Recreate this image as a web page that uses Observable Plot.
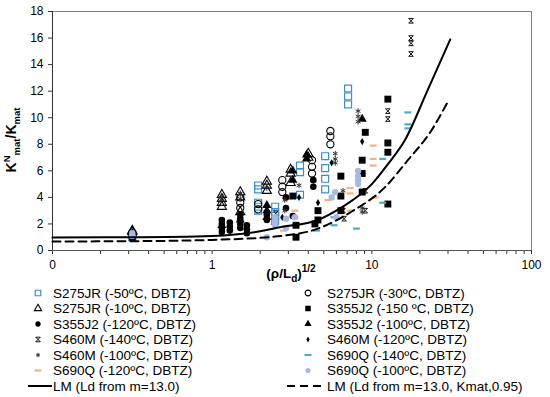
<!DOCTYPE html>
<html><head><meta charset="utf-8">
<script src="https://cdn.jsdelivr.net/npm/d3@7"></script>
<script src="https://cdn.jsdelivr.net/npm/@observablehq/plot@0.6"></script>
<style>
body{margin:0;background:#fff;font-family:"Liberation Sans",Arial,sans-serif;overflow:hidden}
#chart svg{display:block}
</style>
</head><body><div id="chart"></div>
<script>
// ---- data (x = (rho/Ld)^1/2, y = KNmat/Kmat) ----
const s275jr_m50 = [[0.316,1.0],[0.316,1.2],[1.94,4.9],[1.94,4.6],[1.94,3.6],[1.94,3.3],[1.94,3.0],[2.48,3.3],[2.48,2.9],[2.48,2.6],[2.48,2.2],[3.55,6.4],[3.55,5.9],[3.55,4.2],[5.1,7.1],[5.1,6.2],[5.1,5.4],[5.1,4.6],[7.1,12.2],[7.1,11.6],[7.1,11.0]];
const s275jr_m30 = [[0.316,1.1],[1.5,4.0],[1.5,3.6],[1.5,3.2],[1.94,3.5],[1.94,3.1],[2.75,5.3],[2.75,4.8],[2.75,4.4],[4.22,6.8],[4.22,6.3],[4.22,5.8],[5.5,9.0],[5.5,8.6],[5.5,8.0]];
const s275jr_m10 = [[0.316,1.4],[0.316,1.5],[1.15,4.2],[1.15,3.9],[1.15,3.6],[1.15,3.3],[1.5,4.4],[1.5,4.0],[1.5,2.9],[2.2,5.2],[2.2,4.9],[2.2,4.5],[3.1,6.1],[3.1,5.8],[3.1,5.1],[4.0,7.3],[4.0,7.0]];
const s355j2_m150 = [[0.316,1.0],[3.2,4.1],[3.35,1.9],[3.35,1.0],[4.4,2.0],[4.6,3.0],[4.6,2.3],[6.4,5.6],[6.4,4.1],[6.4,3.0],[8.7,6.8],[8.7,5.8],[8.7,4.4],[9.1,8.9],[12.6,11.4],[12.6,8.1],[12.6,7.4],[12.6,3.5]];
const s355j2_m120 = [[0.316,0.9],[1.15,1.4],[1.15,1.7],[1.15,2.0],[1.15,2.3],[1.29,1.5],[1.29,1.8],[1.29,2.1],[1.5,1.7],[1.5,2.0],[1.5,2.4],[1.5,2.7],[1.65,1.3],[1.65,1.6],[1.65,1.9],[2.2,2.3],[2.2,2.7],[2.9,4.0],[2.9,3.2],[3.2,2.6],[4.3,5.3],[4.3,4.8]];
const s355j2_m100 = [[0.316,1.3],[1.15,1.9],[1.5,2.3],[2.2,2.5],[2.2,3.0],[2.2,3.4],[3.2,6.0],[3.2,5.3],[3.9,7.2],[3.9,6.9],[8.7,9.9]];
const s460m_m140 = [[0.316,1.2],[2.5,2.8],[6.7,2.4],[6.6,3.0],[8.7,6.8],[9.1,4.5],[9.1,3.0],[12.6,10.5],[12.6,9.9],[12.6,8.1],[17.6,17.3],[17.6,16.0],[17.6,15.6],[17.6,14.8]];
const s460m_m120 = [[0.316,1.1],[2.75,2.5],[3.5,4.0],[4.6,3.6],[5.6,6.6],[8.7,8.2]];
const s460m_m100 = [[0.316,1.2],[1.15,4.1],[1.15,3.8],[1.5,4.3],[1.5,3.9],[2.2,4.7],[2.85,3.8],[2.85,3.0],[3.5,4.9],[5.9,7.3],[5.9,6.9],[5.9,6.6],[6.6,4.5],[8.2,10.5],[8.2,10.1],[8.2,9.7],[8.7,3.2],[8.7,2.9]];
const s690q_m140 = [[0.316,1.0],[4.5,1.5],[5.8,1.9],[5.8,2.5],[8.0,1.65],[11.7,6.9],[11.7,3.6],[16.8,10.4],[16.8,9.5],[16.8,9.2]];
const s690q_m120 = [[0.316,1.1],[2.8,1.5],[3.3,3.0],[3.3,2.5],[5.3,3.8],[7.3,4.7],[7.3,4.3],[7.3,3.0],[10.2,7.9],[10.2,6.9],[10.2,6.4],[10.5,4.0]];
const s690q_m100 = [[0.316,1.3],[0.316,1.1],[2.2,1.0],[2.48,2.5],[2.48,2.2],[2.48,1.9],[2.9,2.4],[2.9,1.7],[3.3,2.5],[5.6,4.0],[5.9,4.4],[6.0,2.5],[8.2,6.0],[8.2,5.6],[8.2,5.3],[8.2,5.0]];
const lmSolid = [[0.1,0.98],[0.3,1.0],[1,1.1],[2,1.45],[2.66,1.75],[4.6,2.3],[6.5,3.26],[10,5.0],[12.6,6.5],[16.1,8.3],[22.4,12.1],[31,15.9]];
const lmDashed = [[0.1,0.68],[0.3,0.7],[1,0.8],[2.48,1.05],[4.6,1.65],[7.4,2.9],[12.1,4.77],[16.8,6.8],[23.5,9.0],[29.6,11.1]];

const yTicks = [0,2,4,6,8,10,12,14,16,18];
const xMajor = [0.1,1,10,100];
const xTickLabels = ["0","1","10","100"];
const xMinor = [0.2,0.3,0.4,0.5,0.6,0.7,0.8,0.9,2,3,4,5,6,7,8,9,20,30,40,50,60,70,80,90];

const labels = {
  s275jr_m50:"S275JR (-50ºC, DBTZ)", s275jr_m30:"S275JR (-30ºC, DBTZ)", s275jr_m10:"S275JR (-10ºC, DBTZ)",
  s355j2_m150:"S355J2 (-150 ºC, DBTZ)", s355j2_m120:"S355J2 (-120ºC, DBTZ)", s355j2_m100:"S355J2 (-100ºC, DBTZ)",
  s460m_m140:"S460M (-140ºC, DBTZ)", s460m_m120:"S460M (-120ºC, DBTZ)", s460m_m100:"S460M (-100ºC, DBTZ)",
  s690q_m140:"S690Q (-140ºC, DBTZ)", s690q_m120:"S690Q (-120ºC, DBTZ)", s690q_m100:"S690Q (-100ºC, DBTZ)",
  lmSolid:"LM (Ld from m=13.0)", lmDashed:"LM (Ld from m=13.0, Kmat,0.95)"
};

// ---- styles ----
const symDash = {draw(ctx){ctx.moveTo(-3.5,-1.1);ctx.lineTo(3.5,-1.1);ctx.lineTo(3.5,1.1);ctx.lineTo(-3.5,1.1);ctx.closePath();}};
const symHour = {draw(ctx){const s=2.3;ctx.moveTo(-s,-s);ctx.lineTo(s,s);ctx.moveTo(s,-s);ctx.lineTo(-s,s);ctx.moveTo(-s,-s);ctx.lineTo(s,-s);ctx.moveTo(-s,s);ctx.lineTo(s,s);}};
const BLUE="#3a8fcc", ORANGE="#f4b183", CYAN="#4bacc6", LILAC="#aab9e2";
const styles = {
  s275jr_m50:{symbol:"square",r:3.9,fill:"none",stroke:BLUE,sw:1.2},
  s275jr_m30:{symbol:"circle",r:3.6,fill:"none",stroke:"#000",sw:1.1},
  s275jr_m10:{symbol:"triangle",r:3.4,fill:"none",stroke:"#000",sw:1.1},
  s355j2_m150:{symbol:"square",r:3.9,fill:"#000",stroke:"none",sw:0},
  s355j2_m120:{symbol:"circle",r:3.3,fill:"#000",stroke:"none",sw:0},
  s355j2_m100:{symbol:"triangle",r:3.4,fill:"#000",stroke:"none",sw:0},
  s460m_m140:{symbol:symHour,r:3,fill:"none",stroke:"#111",sw:1},
  s460m_m120:{symbol:"diamond",r:2.2,fill:"#000",stroke:"none",sw:0},
  s460m_m100:{symbol:"asterisk",r:2.6,fill:"none",stroke:"#333",sw:1},
  s690q_m140:{symbol:symDash,r:3,fill:CYAN,stroke:"none",sw:0},
  s690q_m120:{symbol:symDash,r:3,fill:ORANGE,stroke:"none",sw:0},
  s690q_m100:{symbol:"circle",r:3.2,fill:LILAC,stroke:"none",sw:0}
};
const seriesData = {s275jr_m50,s275jr_m30,s275jr_m10,s355j2_m150,s355j2_m120,s355j2_m100,s460m_m140,s460m_m120,s460m_m100,s690q_m140,s690q_m120,s690q_m100};
const drawOrder = ["s275jr_m50","s275jr_m30","s275jr_m10","s355j2_m150","s355j2_m120","s355j2_m100","s460m_m140","s460m_m120","s460m_m100","s690q_m140","s690q_m120","s690q_m100"];

const FONT = "Liberation Sans, Arial, sans-serif";
const H = 284;
const marks = [
  Plot.frame({stroke:"#808080", strokeWidth:1}),
  Plot.axisY({ticks:yTicks, tickSize:4, tickPadding:5, fontSize:12, label:null, stroke:"#333"}),
  Plot.axisX({ticks:xMajor, tickFormat:d=>xTickLabels[xMajor.indexOf(d)], tickSize:4, tickPadding:6, fontSize:12, label:null, stroke:"#333"}),
  Plot.axisX({ticks:xMinor, tickFormat:()=>"", tickSize:4, label:null, stroke:"#333"}),
  Plot.ruleX([0.1],{stroke:"#333"}),
  Plot.ruleY([0],{stroke:"#555"})
];
for (const k of drawOrder) {
  const s = styles[k];
  marks.push(Plot.dot(seriesData[k], {x:d=>d[0], y:d=>d[1], symbol:s.symbol, r:s.r, fill:s.fill, stroke:s.stroke, strokeWidth:s.sw}));
}
marks.push(Plot.line(lmSolid,{x:d=>d[0], y:d=>d[1], curve:"monotone-x", stroke:"#000", strokeWidth:2}));
marks.push(Plot.line(lmDashed,{x:d=>d[0], y:d=>d[1], curve:"monotone-x", stroke:"#000", strokeWidth:2, strokeDasharray:"8,5"}));

const chart = Plot.plot({
  width:550, height:H,
  marginLeft:52, marginRight:19, marginTop:11, marginBottom:H-250,
  style:{fontFamily:FONT, fontSize:"12px", color:"#000", background:"#fff", overflow:"visible"},
  x:{type:"log", domain:[0.1,100]},
  y:{domain:[0,18]},
  marks
});
const svg = d3.select(chart);
// x title
const xt = svg.append("text").attr("x",291).attr("y",278).attr("text-anchor","middle")
  .attr("font-family",FONT).attr("font-weight","bold").attr("font-size",13.5).attr("fill","#000");
xt.append("tspan").text("(ρ/L");
xt.append("tspan").attr("dy",4).attr("font-size",10).text("d");
xt.append("tspan").attr("dy",-4).text(")");
xt.append("tspan").attr("dy",-6).attr("font-size",10).text("1/2");
// y title
const yt = svg.append("text").attr("transform","translate(16,140) rotate(-90)").attr("text-anchor","middle")
  .attr("font-family",FONT).attr("font-weight","bold").attr("font-size",14).attr("fill","#000");
yt.append("tspan").text("K");
yt.append("tspan").attr("dy",-6).attr("font-size",9.5).text("N");
yt.append("tspan").attr("dy",10).attr("font-size",9.5).text("mat");
yt.append("tspan").attr("dy",-4).text("/K");
yt.append("tspan").attr("dy",4).attr("font-size",9.5).text("mat");
document.getElementById("chart").appendChild(chart);

// ---- legend ----
const leftCol = ["s275jr_m50","s275jr_m10","s355j2_m120","s460m_m140","s460m_m100","s690q_m120","lmSolid"];
const rightCol = ["s275jr_m30","s355j2_m150","s355j2_m100","s460m_m120","s690q_m140","s690q_m100","lmDashed"];
const lg = d3.select("#chart").append("svg").attr("width",550).attr("height",397-H).style("display","block");
function symType(s){
  const m = {square:d3.symbolSquare,circle:d3.symbolCircle,triangle:d3.symbolTriangle,diamond:d3.symbolDiamond,asterisk:d3.symbolAsterisk};
  return typeof s === "string" ? m[s] : s;
}
function drawCol(keys, mx, tx, lineX1, lineX2){
  keys.forEach((k,i)=>{
    const cy = 9 + i*15.5;
    if (k==="lmSolid" || k==="lmDashed") {
      lg.append("line").attr("x1",lineX1).attr("x2",lineX2).attr("y1",cy).attr("y2",cy)
        .attr("stroke","#000").attr("stroke-width",2).attr("stroke-dasharray",k==="lmDashed"?"8,5":null);
    } else {
      const s = styles[k], lr = s.r*0.8;
      lg.append("path").attr("transform",`translate(${mx},${cy})`)
        .attr("d", d3.symbol(symType(s.symbol), Math.PI*lr*lr)())
        .attr("fill",s.fill).attr("stroke",s.stroke).attr("stroke-width",s.sw);
    }
    lg.append("text").attr("x",tx).attr("y",cy).attr("dy","0.36em").attr("font-family",FONT)
      .attr("font-size",13.5).attr("fill","#000").text(labels[k]);
  });
}
drawCol(leftCol, 38, 53, 28, 52);
drawCol(rightCol, 308, 327, 287, 325);
</script></body></html>
